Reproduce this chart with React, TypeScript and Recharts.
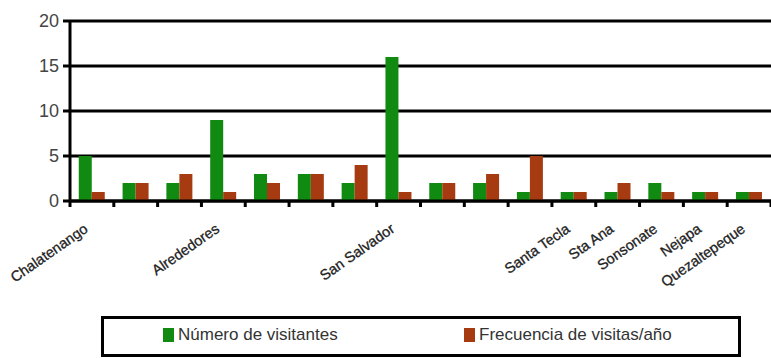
import React from "react";
import { BarChart, Bar, XAxis, YAxis, CartesianGrid, Legend } from "recharts";

const categories = [
  "Chalatenango", "", "", "Alrededores", "", "", "", "San Salvador",
  "", "", "", "Santa Tecla", "Sta Ana", "Sonsonate", "Nejapa", "Quezaltepeque",
];
const visitantes = [5, 2, 2, 9, 3, 3, 2, 16, 2, 2, 1, 1, 1, 2, 1, 1];
const frecuencia = [1, 2, 3, 1, 2, 3, 4, 1, 2, 3, 5, 1, 2, 1, 1, 1];
const yTicks = [0, 5, 10, 15, 20];

const seriesNames = ["Número de visitantes", "Frecuencia de visitas/año"];
const colors = ["#108a10", "#a63a10"];

const data = categories.map((c, i) => ({
  key: String(i),
  label: c,
  visitantes: visitantes[i],
  frecuencia: frecuencia[i],
}));

const FONT = "'Liberation Sans', Arial, sans-serif";

const XTick = (props: any) => {
  const { x, y, index, payload } = props;
  const half = payload && typeof payload.offset === "number" ? payload.offset : 21.9;
  const label = categories[index];
  const isLast = index === categories.length - 1;
  return (
    <g>
      <line x1={x - half} x2={x - half} y1={y} y2={y + 6} stroke="#000" strokeWidth={3} />
      {isLast && <line x1={x + half} x2={x + half} y1={y} y2={y + 6} stroke="#000" strokeWidth={3} />}
      {label && (
        <text
          transform={`translate(${x - 3},${y + 30}) rotate(-35)`}
          textAnchor="end"
          fontFamily={FONT}
          fontSize={14.5}
          fill="#222"
          stroke="#222"
          strokeWidth={0.3}
        >
          {label}
        </text>
      )}
    </g>
  );
};

const LegendBox = () => {
  const pos = [{ sq: 59, tx: 74 }, { sq: 360, tx: 375 }];
  return (
    <div
      style={{
        position: "relative",
        width: 640,
        height: 41,
        border: "3px solid #000",
        boxSizing: "border-box",
        fontFamily: FONT,
        fontSize: 17,
        color: "#333",
        background: "#fff",
      }}
    >
      {seriesNames.map((name, i) => (
        <React.Fragment key={i}>
          <span
            style={{
              position: "absolute",
              left: pos[i].sq,
              top: 9,
              width: 11,
              height: 14,
              background: colors[i],
            }}
          />
          <span style={{ position: "absolute", left: pos[i].tx, top: 6, whiteSpace: "nowrap" }}>
            {name}
          </span>
        </React.Fragment>
      ))}
    </div>
  );
};

export default function App() {
  return (
    <div style={{ position: "absolute", left: 0, top: 0, width: 771, height: 358, background: "#fff" }}>
      <BarChart
        width={771}
        height={358}
        data={data}
        margin={{ top: 21, right: 0, left: 0, bottom: 97 }}
        barCategoryGap="20%"
        barGap={0}
      >
        <CartesianGrid vertical={false} stroke="#000" strokeWidth={3} />
        <XAxis
          dataKey="key"
          height={60}
          interval={0}
          tickLine={false}
          tickSize={0}
          tickMargin={0}
          axisLine={{ stroke: "#000", strokeWidth: 3 }}
          tick={<XTick />}
        />
        <YAxis
          width={70}
          domain={[0, 20]}
          ticks={yTicks}
          interval={0}
          tickSize={7}
          tickMargin={4}
          tickLine={{ stroke: "#000", strokeWidth: 3 }}
          axisLine={{ stroke: "#000", strokeWidth: 3 }}
          tick={{ fontFamily: FONT, fontSize: 18, fill: "#444" }}
        />
        <Legend
          layout="horizontal"
          verticalAlign="middle"
          align="center"
          wrapperStyle={{ left: 101, top: 316, width: 640 }}
          content={<LegendBox />}
        />
        <Bar dataKey="visitantes" name={seriesNames[0]} fill={colors[0]} isAnimationActive={false} />
        <Bar dataKey="frecuencia" name={seriesNames[1]} fill={colors[1]} isAnimationActive={false} />
      </BarChart>
    </div>
  );
}
